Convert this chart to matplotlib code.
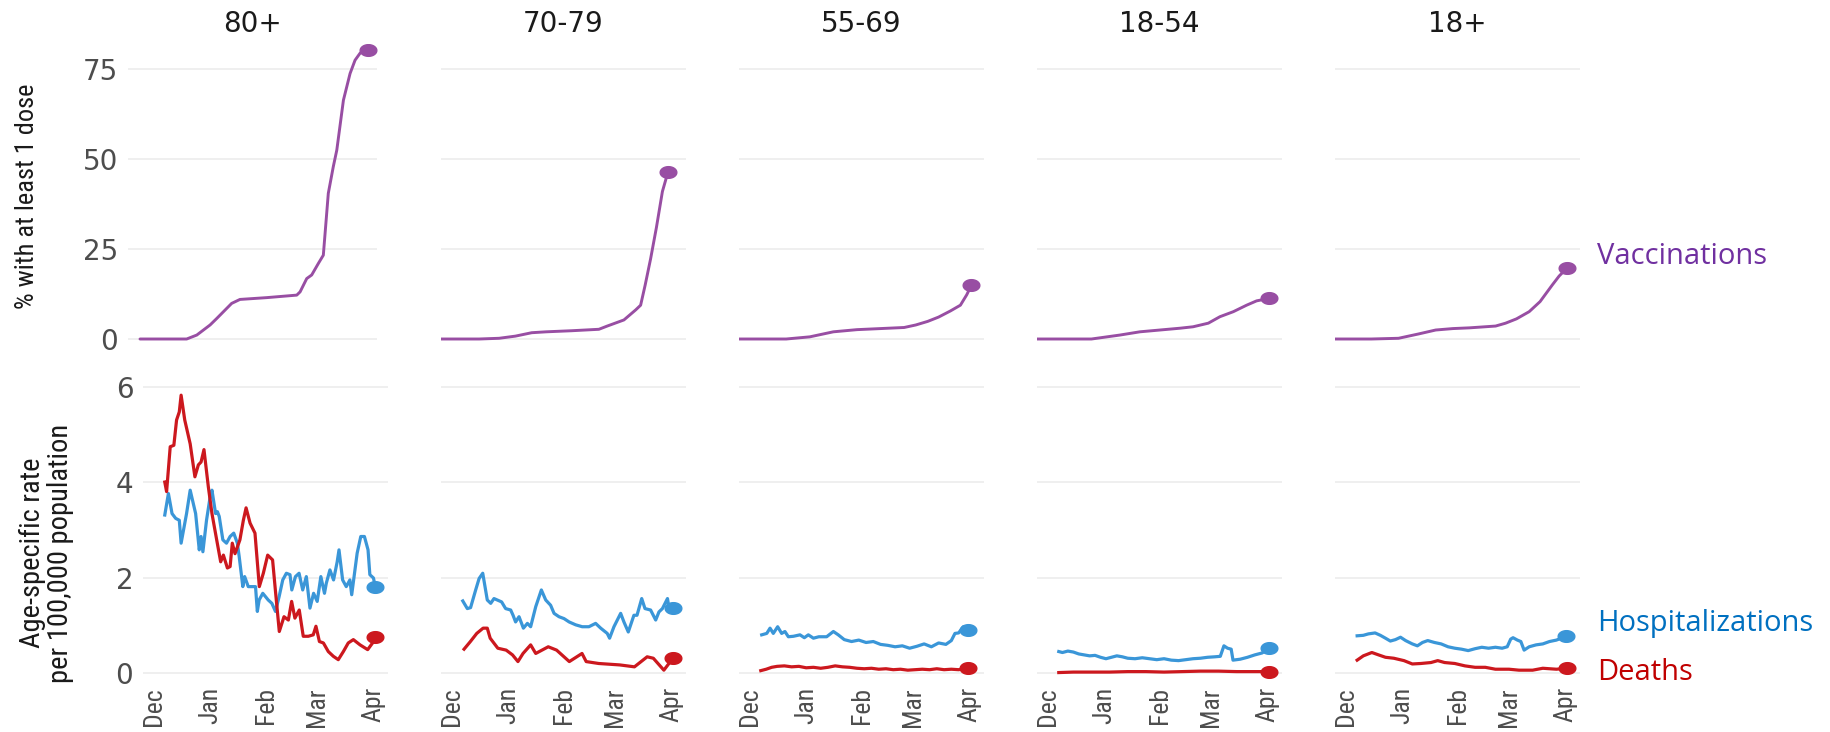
import numpy as np
import pandas as pd
import matplotlib
matplotlib.use("Agg")
import matplotlib.pyplot as plt
from matplotlib.path import Path
from matplotlib import font_manager as fm

# ---------------- data ----------------
groups = ["80+", "70-79", "55-69", "18-54", "18+"]
base_date = pd.Timestamp("2020-11-25")          # day 0 of the day offsets below
month_ticks = ["2020-12-01", "2021-01-01", "2021-02-01", "2021-03-01", "2021-04-01"]
month_labels = ["Dec", "Jan", "Feb", "Mar", "Apr"]

# % with at least one dose (day offset, value)
vax80_days = [6.5, 31.8, 37.3, 44.5, 48.1, 50.8, 56.2, 60.7, 75.2, 91.5, 93.3, 96.9, 99.6,
              103.2, 105.9, 108.6, 111.3, 113.2, 116.8, 120.4, 123.1, 125.9, 129.9]
vax80_pct = [0, 0, 1.1, 3.9, 5.7, 7.1, 9.9, 11.0, 11.5, 12.2, 13.1, 16.8, 17.8,
             21.0, 23.3, 40.5, 47.9, 52.5, 66.4, 73.8, 77.5, 79.5, 80.3]
vax70_days = [0, 21, 32, 41, 50, 58, 72, 87, 91.6, 100.8, 107.3, 110, 112.5, 115.5, 118.7, 122, 125]
vax70_pct = [0, 0, 0.2, 0.8, 1.75, 2.0, 2.3, 2.7, 3.6, 5.3, 8.1, 9.4, 15, 22.3, 31, 41, 46.3]
vax55_days = [0, 4, 26, 39, 52, 65, 78, 91, 97.4, 104, 110, 116.5, 122, 125.5, 128]
vax55_pct = [0, 0, 0, 0.6, 2.0, 2.6, 2.9, 3.2, 3.9, 4.9, 6.1, 7.8, 9.4, 12.3, 14.9]
vax18_days = [0, 6, 30, 45.7, 56.7, 78.8, 86, 94.4, 100.8, 108.2, 115.5, 121, 128]
vax18_pct = [0, 0, 0, 1.1, 2.0, 3.0, 3.4, 4.4, 6.2, 7.6, 9.4, 10.6, 11.3]
vaxall_days = [0, 5, 20, 35, 46, 55.5, 65, 74, 88.5, 94, 100, 107, 113, 119.7, 123.5, 128]
vaxall_pct = [0, 0, 0, 0.2, 1.4, 2.5, 2.9, 3.1, 3.6, 4.4, 5.6, 7.6, 10.4, 15.0, 17.5, 19.8]

# hospitalizations per 100,000 (day offset, value)
hosp80_days = [12, 14, 16, 18, 20, 21, 24, 26, 29, 31, 32, 33, 35, 37, 38, 40, 41, 42, 44, 46,
               48, 50, 52, 53, 55, 56, 58, 62, 63, 64, 66, 69, 71, 73, 75, 77, 79, 81, 82, 84,
               86, 88, 90, 92, 94, 96, 98, 100, 101, 103, 105, 107, 108, 110, 112, 114, 115,
               118, 120, 122, 124, 125, 127, 128]
hosp80_rate = [3.31, 3.76, 3.34, 3.24, 3.2, 2.72, 3.34, 3.83, 3.34, 2.58, 2.86, 2.54, 3.2, 3.69,
               3.83, 3.34, 3.38, 3.28, 2.79, 2.72, 2.86, 2.93, 2.72, 2.44, 1.81, 2.02, 1.81,
               1.81, 1.29, 1.53, 1.67, 1.53, 1.46, 1.29, 1.6, 1.95, 2.09, 2.06, 1.74, 2.02,
               2.09, 1.74, 2.02, 1.36, 1.67, 1.5, 2.02, 1.67, 1.88, 2.16, 1.95, 2.33, 2.58,
               1.95, 1.81, 1.95, 1.64, 2.51, 2.86, 2.86, 2.58, 2.06, 1.99, 1.80]
hosp70_days = [12, 14.5, 16.3, 19.1, 21, 23, 25.5, 27.4, 29.2, 31, 33.4, 35.6, 38.4, 39.7, 41.1,
               43, 45.4, 47.6, 49.4, 52.2, 55.3, 57.7, 60.4, 62.3, 65, 67.8, 70.6, 74.2, 77.8,
               81.5, 85.2, 88, 91.6, 92.9, 95.3, 99, 100.8, 103.2, 106.3, 108, 110.6, 112.4,
               115.5, 118.3, 120.1, 122, 124.8, 125.7, 127.8]
hosp70_rate = [1.51, 1.35, 1.37, 1.74, 1.98, 2.09, 1.53, 1.46, 1.56, 1.53, 1.49, 1.35, 1.32, 1.21,
               1.07, 1.18, 0.94, 1.04, 0.97, 1.39, 1.74, 1.53, 1.42, 1.25, 1.18, 1.14, 1.07,
               1.01, 0.97, 0.97, 1.04, 0.94, 0.83, 0.73, 0.97, 1.25, 1.07, 0.86, 1.21, 1.21,
               1.56, 1.35, 1.32, 1.11, 1.28, 1.35, 1.56, 1.35, 1.37]
hosp55_days = [12.5, 15.3, 17.1, 18.9, 21.3, 23.5, 25.3, 27.2, 30, 33.6, 36, 38.2, 41, 44, 48.3,
               52, 54.7, 58, 62, 66, 70, 74, 78, 82, 86, 90, 94, 98, 102, 106, 110, 114, 117,
               119, 121, 123.6, 126.3]
hosp55_rate = [0.80, 0.83, 0.94, 0.83, 0.97, 0.83, 0.87, 0.76, 0.77, 0.80, 0.74, 0.80, 0.73, 0.76,
               0.76, 0.87, 0.80, 0.70, 0.66, 0.69, 0.64, 0.66, 0.60, 0.58, 0.55, 0.57, 0.52,
               0.56, 0.61, 0.55, 0.63, 0.60, 0.68, 0.83, 0.84, 0.97, 0.90]
hosp18_days = [12, 14, 17, 20, 23, 26, 29, 32, 35, 38, 41, 44, 47, 50, 54, 58, 62, 66, 70, 74, 78,
               82, 86, 90, 94, 98, 101, 103, 105, 107, 108, 112, 116, 120, 124, 126, 128]
hosp18_rate = [0.45, 0.43, 0.46, 0.44, 0.40, 0.38, 0.36, 0.37, 0.33, 0.30, 0.33, 0.36, 0.34, 0.31,
               0.30, 0.32, 0.30, 0.28, 0.30, 0.27, 0.26, 0.28, 0.30, 0.31, 0.33, 0.34, 0.35,
               0.57, 0.52, 0.50, 0.27, 0.29, 0.33, 0.38, 0.42, 0.47, 0.52]
hospall_days = [12.2, 15.6, 18.4, 22.1, 25, 27.8, 30.5, 33.3, 36.1, 38.9, 42.6, 45.4, 48.2, 51.1,
                54.8, 58.5, 62.3, 66, 69.7, 73.4, 77.2, 80.9, 84.6, 88.4, 92.1, 94.9, 96.8, 98.1,
                100.5, 102.4, 104.2, 107, 110.8, 114.5, 118.2, 122, 124.7, 127.5]
hospall_rate = [0.78, 0.79, 0.82, 0.84, 0.79, 0.73, 0.67, 0.70, 0.75, 0.68, 0.61, 0.57, 0.64, 0.68,
                0.64, 0.61, 0.55, 0.52, 0.50, 0.47, 0.51, 0.54, 0.52, 0.54, 0.52, 0.55, 0.71,
                0.74, 0.69, 0.66, 0.48, 0.55, 0.59, 0.61, 0.66, 0.69, 0.73, 0.77]

# deaths per 100,000 (day offset, value)
death80_days = [12, 13, 15, 17, 18.5, 20, 21, 23, 26, 28.6, 30.5, 32, 33.6, 36, 38, 40.6, 42.8,
                44.3, 46.5, 48, 49.2, 50.7, 53.4, 55.3, 56.8, 59, 61.7, 64.1, 66.3, 68.7, 71.4,
                73.1, 75.1, 77.7, 80.1, 81.9, 83.7, 86.1, 88.3, 91.1, 93.8, 95.3, 97.2, 99.4,
                102.1, 104.9, 107.6, 110.4, 113.1, 115.9, 119.6, 123.8, 126.5, 128]
death80_rate = [4.0, 3.8, 4.74, 4.77, 5.3, 5.47, 5.82, 5.3, 4.8, 4.11, 4.36, 4.42, 4.68, 3.9, 3.34,
                2.79, 2.33, 2.47, 2.2, 2.23, 2.72, 2.5, 2.79, 3.2, 3.46, 3.14, 2.93, 1.81, 2.09,
                2.47, 2.37, 1.67, 0.87, 1.18, 1.11, 1.5, 1.15, 1.32, 0.77, 0.77, 0.8, 0.98, 0.66,
                0.63, 0.45, 0.35, 0.28, 0.45, 0.63, 0.70, 0.59, 0.49, 0.63, 0.75]
death70_days = [12.7, 16.2, 19.7, 23.2, 25.5, 27.1, 31.3, 35.9, 39.4, 42.4, 45.2, 49.4, 52.2,
                59.1, 63.7, 70.7, 77.7, 80, 86.9, 98.5, 106.6, 113.6, 117, 122.8, 127.8]
death70_rate = [0.50, 0.66, 0.83, 0.94, 0.94, 0.73, 0.52, 0.48, 0.38, 0.24, 0.41, 0.59, 0.41,
                0.55, 0.48, 0.24, 0.41, 0.24, 0.20, 0.17, 0.13, 0.34, 0.31, 0.06, 0.31]
death55_days = [12, 15, 18, 21, 25, 29, 33, 37, 41, 45, 49, 53, 57, 61, 65, 69, 73, 77, 81, 85,
                89, 93, 97, 101, 105, 109, 113, 117, 121, 124, 126.3]
death55_rate = [0.05, 0.08, 0.12, 0.14, 0.15, 0.13, 0.14, 0.11, 0.12, 0.10, 0.12, 0.15, 0.13,
                0.12, 0.10, 0.09, 0.10, 0.08, 0.09, 0.07, 0.08, 0.06, 0.07, 0.08, 0.07, 0.09,
                0.07, 0.08, 0.07, 0.09, 0.10]
death18_days = [12, 20, 30, 40, 50, 60, 70, 80, 90, 100, 110, 118, 128]
death18_rate = [0.01, 0.02, 0.02, 0.02, 0.03, 0.03, 0.02, 0.03, 0.04, 0.04, 0.03, 0.03, 0.03]
deathall_days = [12.2, 15.6, 20.3, 24, 27.8, 32.4, 38, 42.6, 47.3, 52.9, 56.6, 60.4, 66, 71.6,
                 77.2, 82.8, 88.4, 95.9, 101.4, 108.9, 114.5, 122, 128]
deathall_rate = [0.27, 0.36, 0.43, 0.38, 0.33, 0.31, 0.26, 0.19, 0.20, 0.22, 0.26, 0.22, 0.20,
                 0.15, 0.12, 0.12, 0.08, 0.08, 0.06, 0.06, 0.10, 0.08, 0.10]

vax = [(vax80_days, vax80_pct), (vax70_days, vax70_pct), (vax55_days, vax55_pct),
       (vax18_days, vax18_pct), (vaxall_days, vaxall_pct)]
hosp = [(hosp80_days, hosp80_rate), (hosp70_days, hosp70_rate), (hosp55_days, hosp55_rate),
        (hosp18_days, hosp18_rate), (hospall_days, hospall_rate)]
death = [(death80_days, death80_rate), (death70_days, death70_rate), (death55_days, death55_rate),
         (death18_days, death18_rate), (deathall_days, deathall_rate)]

# ---------------- fonts ----------------
ttf = fm.fontManager.ttflist
names = {f.name for f in ttf}
NARROW = None
NSCALE = 1.0
for nm in ["Liberation Sans Narrow", "Arial Narrow", "DejaVu Sans Condensed", "Roboto Condensed",
           "Noto Sans Condensed", "Open Sans Condensed"]:
    if nm in names:
        NARROW = dict(family=nm)
        break
if NARROW is None:
    for f in ttf:
        if (f.name in ("Liberation Sans", "Noto Sans", "Roboto", "Open Sans", "DejaVu Sans")
                and f.stretch in ("condensed", "semi-condensed", "extra-condensed")
                and f.style == "normal" and f.weight in (400, "normal", "regular")):
            NARROW = dict(family=f.name, stretch=f.stretch)
            break
if NARROW is None:
    NARROW = dict(family="Liberation Sans")
    NSCALE = 0.82
LABEL_FONT = "Open Sans" if "Open Sans" in names else "DejaVu Sans"

C_VAX, C_HOSP, C_DEATH = "#984EA3", "#3A96D8", "#CC181E"
GRID = "#EBEBEB"
TICK = "#4D4D4D"

t = np.linspace(0, 2 * np.pi, 60)
ellipse = Path(np.column_stack([np.cos(t), 0.7 * np.sin(t)]), closed=True)


def to_dates(days):
    return base_date + pd.to_timedelta(np.asarray(days, dtype=float), unit="D")


W, H = 1831, 732
fig = plt.figure(figsize=(W / 100, H / 100), dpi=100)


def rect(left, top, w, h):
    return [left / W, 1 - (top + h) / H, w / W, h / H]


xlim = (base_date, base_date + pd.Timedelta(days=135))
tick_dates = pd.to_datetime(month_ticks)

for k in range(5):
    if k == 0:
        axt = fig.add_axes(rect(128, 44, 249, 304))
    else:
        axt = fig.add_axes(rect(143 + 298 * k, 44, 245, 304))
    axb = fig.add_axes(rect(143 + 298 * k, 381.8, 245, 298.4))

    for ax in (axt, axb):
        ax.set_xlim(*xlim)
        for s in ax.spines.values():
            s.set_visible(False)
        ax.grid(axis="y", color=GRID, lw=1.1)
        ax.set_axisbelow(True)
        ax.tick_params(length=0)
        ax.set_xticks(tick_dates)

    # vaccinations
    d, v = vax[k]
    x = to_dates(d)
    axt.plot(x, v, color=C_VAX, lw=2.1, solid_capstyle="round")
    axt.plot(x[-1:], v[-1:], marker=ellipse, ms=12, color=C_VAX, ls="none")
    axt.set_ylim(-2.5, 82)
    axt.set_yticks([0, 25, 50, 75])
    axt.tick_params(labelbottom=False)
    axt.set_title(groups[k], fontsize=20, color="#1A1A1A", family="DejaVu Sans", pad=9)

    # hospitalizations and deaths
    for (d, v), col in ((hosp[k], C_HOSP), (death[k], C_DEATH)):
        x = to_dates(d)
        axb.plot(x, v, color=col, lw=2.3, solid_joinstyle="round")
        axb.plot(x[-1:], v[-1:], marker=ellipse, ms=12, color=col, ls="none")
    axb.set_ylim(-0.15, 6.1)
    axb.set_yticks([0, 2, 4, 6])
    axb.set_xticklabels(month_labels, rotation=90, fontsize=18.5 * NSCALE, color=TICK, **NARROW)
    axb.tick_params(axis="x", pad=5)

    if k == 0:
        axt.set_yticklabels(["0", "25", "50", "75"], fontsize=20, family="DejaVu Sans", color=TICK)
        axb.set_yticklabels(["0", "2", "4", "6"], fontsize=20, family="DejaVu Sans", color=TICK)
        axt.tick_params(axis="y", pad=7)
        axb.tick_params(axis="y", pad=7)
    else:
        axt.tick_params(labelleft=False)
        axb.tick_params(labelleft=False)

fig.text(27 / W, 1 - 196 / H, "% with at least 1 dose", rotation=90, ha="center", va="center",
         fontsize=19 * NSCALE, color="#1A1A1A", **NARROW)
fig.text(46 / W, 1 - 553 / H, "Age-specific rate\nper 100,000 population", rotation=90,
         ha="center", va="center", ma="center", fontsize=20.5 * NSCALE, color="#1A1A1A",
         linespacing=1.05, **NARROW)

fig.text(1597 / W, 1 - 257 / H, "Vaccinations", ha="left", va="center", fontsize=21,
         family=LABEL_FONT, color="#7030A0")
fig.text(1597 / W, 1 - 624 / H, "Hospitalizations", ha="left", va="center", fontsize=21,
         family=LABEL_FONT, color="#0070C0")
fig.text(1597 / W, 1 - 672 / H, "Deaths", ha="left", va="center", fontsize=21,
         family=LABEL_FONT, color="#C00000")

fig.savefig("out.png", dpi=100, facecolor="white")
